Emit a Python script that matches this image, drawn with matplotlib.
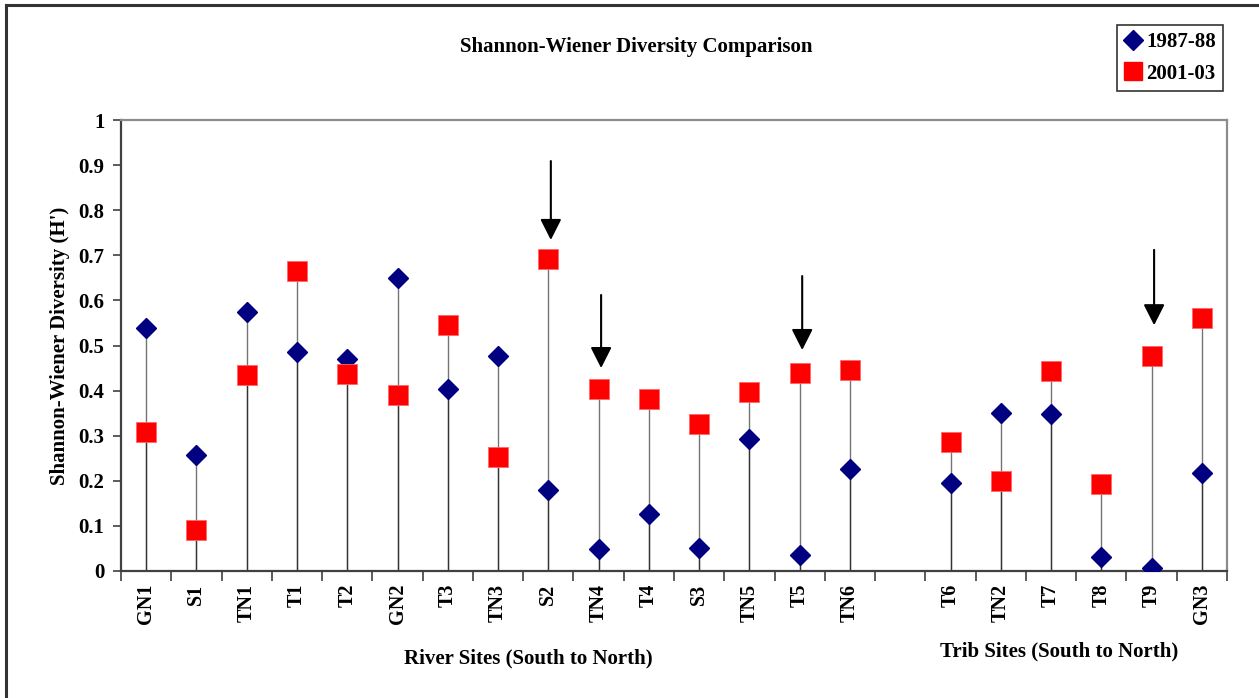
import matplotlib
matplotlib.use("Agg")
import matplotlib.pyplot as plt
from matplotlib.lines import Line2D
import numpy as np

plt.rcParams["font.family"] = ["Liberation Serif", "DejaVu Serif"]
plt.rcParams["font.weight"] = "bold"

# ---- data ----
sites = ["GN1", "S1", "TN1", "T1", "T2", "GN2", "T3", "TN3", "S2", "TN4",
         "T4", "S3", "TN5", "T5", "TN6", "", "T6", "TN2", "T7", "T8", "T9", "GN3"]
h_1987 = [0.539, 0.257, 0.574, 0.486, 0.470, 0.650, 0.404, 0.477, 0.180, 0.049,
          0.126, 0.051, 0.293, 0.035, 0.226, None, 0.195, 0.350, 0.348, 0.031,
          0.007, 0.217]
h_2001 = [0.308, 0.091, 0.435, 0.665, 0.437, 0.390, 0.545, 0.253, 0.692, 0.404,
          0.381, 0.326, 0.397, 0.439, 0.446, None, 0.286, 0.200, 0.443, 0.193,
          0.477, 0.561]

# arrows highlighting selected sites: (site, arrow tail, arrow tip)
arrow_sites = ["S2", "TN4", "T5", "T9"]
arrow_tail = [0.909, 0.612, 0.654, 0.712]
arrow_tip = [0.734, 0.450, 0.490, 0.545]

yticks = [0, 0.1, 0.2, 0.3, 0.4, 0.5, 0.6, 0.7, 0.8, 0.9, 1]
ytick_labels = ["0", "0.1", "0.2", "0.3", "0.4", "0.5", "0.6", "0.7", "0.8", "0.9", "1"]

W, H = 1259, 698
FS = 15
fig = plt.figure(figsize=(W / 100, H / 100), dpi=100)
ax = fig.add_axes([121 / W, 1 - 571 / H, (1227 - 121) / W, (571 - 120) / H])

x = np.arange(len(sites))
valid = [i for i in x if h_1987[i] is not None]
xv = np.array(valid)
a = np.array([h_1987[i] for i in valid])
b = np.array([h_2001[i] for i in valid])

# drop lines (one per series, overlap gives the darker lower part)
ax.vlines(xv, 0, a, color="black", lw=1.0, alpha=0.55, zorder=2)
ax.vlines(xv, 0, b, color="black", lw=1.0, alpha=0.55, zorder=2)

ax.plot(xv, a, ls="none", marker="D", ms=10.5, color="#000080",
        mec="#000080", zorder=3)
ax.plot(xv, b, ls="none", marker="s", ms=14, color="#FF0000",
        mec="#FF6666", mew=0.6, zorder=4)

for s, t0, t1 in zip(arrow_sites, arrow_tail, arrow_tip):
    xi = sites.index(s)
    ax.annotate("", xy=(xi + 0.05, t1), xytext=(xi + 0.05, t0),
                arrowprops=dict(arrowstyle="-|>,head_length=0.75,head_width=0.38",
                                color="black", lw=1.5, mutation_scale=17,
                                shrinkA=0, shrinkB=0), zorder=5)

ax.set_xlim(-0.5, len(sites) - 0.5)
ax.set_ylim(0, 1)
ax.set_yticks(yticks)
ax.set_yticklabels(ytick_labels, fontsize=FS, fontweight="bold")
ax.set_xticks(x)
ax.set_xticklabels(sites, rotation=90, fontsize=14.5, fontweight="bold")
ax.tick_params(axis="x", which="major", length=0, pad=9)
ax.set_xticks(np.arange(-0.5, len(sites), 1), minor=True)
ax.tick_params(axis="x", which="minor", length=7, width=1.2, color="#404040",
               direction="out")
ax.tick_params(axis="y", length=6, width=1.2, color="#404040", direction="out", pad=6)

for side in ["left", "bottom"]:
    ax.spines[side].set_color("#404040")
    ax.spines[side].set_linewidth(1.6)
for side in ["top", "right"]:
    ax.spines[side].set_color("#8c8c8c")
    ax.spines[side].set_linewidth(1.6)

fig.text(636 / W, 1 - 47 / H, "Shannon-Wiener Diversity Comparison",
         ha="center", va="center", fontsize=FS, fontweight="bold")
fig.text(60 / W, 1 - 346 / H, "Shannon-Wiener Diversity (H')", rotation=90,
         ha="center", va="center", fontsize=FS, fontweight="bold")
fig.text(528 / W, 1 - 658 / H, "River Sites (South to North)",
         ha="center", va="center", fontsize=FS, fontweight="bold")
fig.text(1059 / W, 1 - 651 / H, "Trib Sites (South to North)",
         ha="center", va="center", fontsize=FS, fontweight="bold")

handles = [Line2D([], [], ls="none", marker="D", ms=10, color="#000080"),
           Line2D([], [], ls="none", marker="s", ms=13, color="#FF0000")]
leg = fig.legend(handles, ["1987-88", "2001-03"], loc="upper left",
                 bbox_to_anchor=(1117 / W, 1 - 25 / H),
                 prop=dict(size=FS, weight="bold"), frameon=True, fancybox=False,
                 edgecolor="black", handlelength=0.8, handletextpad=0.25,
                 borderpad=0.35, labelspacing=0.55, borderaxespad=0)
leg.get_frame().set_linewidth(1.2)

# outer chart frame (top and left edges visible)
fig.add_artist(Line2D([6 / W, 6 / W], [0, 1 - 5 / H], color="#333333", lw=2.2,
                      transform=fig.transFigure))
fig.add_artist(Line2D([6 / W, 1], [1 - 5 / H, 1 - 5 / H], color="#333333", lw=2.2,
                      transform=fig.transFigure))

fig.savefig("out.png", dpi=100)
